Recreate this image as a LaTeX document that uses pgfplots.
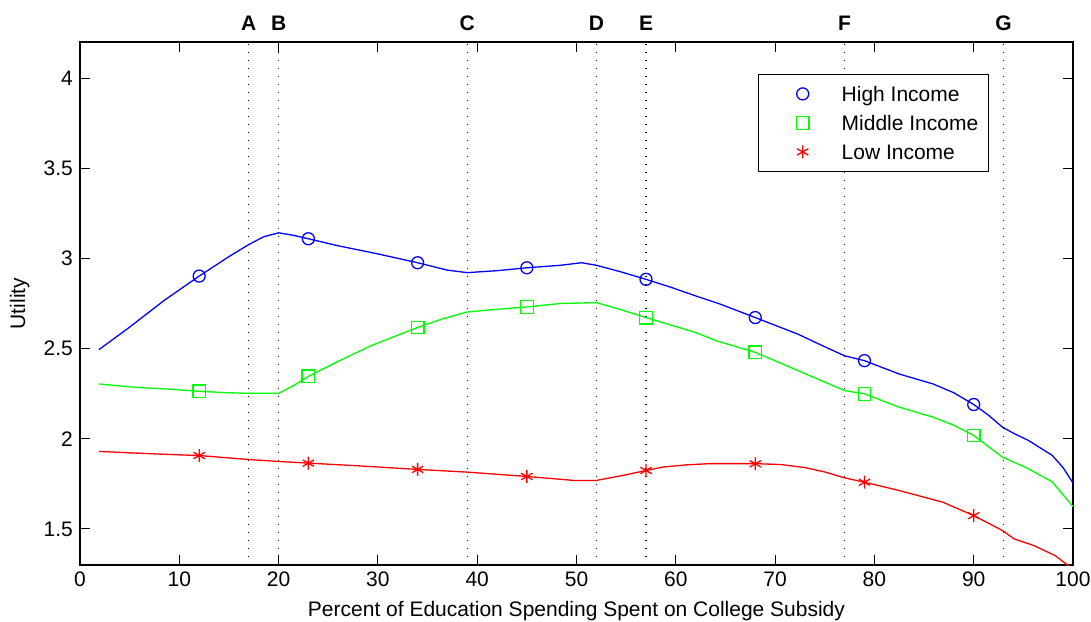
\documentclass[border=0pt]{standalone}
\usepackage{fontspec}
\setmainfont{Liberation Sans}
\usepackage{pgfplots}
\pgfplotsset{compat=1.18}
\definecolor{mblue}{RGB}{0,0,255}
\definecolor{mgreen}{RGB}{0,255,0}
\definecolor{mred}{RGB}{255,0,0}
\begin{document}
\fontsize{21}{25}\selectfont
\begin{tikzpicture}
\begin{axis}[
  scale only axis, width=993pt, height=523pt,
  xmin=0, xmax=100, ymin=1.3, ymax=4.2,
  xtick={0,10,20,30,40,50,60,70,80,90,100},
  ytick={1.5,2,2.5,3,3.5,4},
  major tick length=10pt,
  tick style={black, line width=0.9pt},
  axis line style={black, line width=1.1pt},
  tick label style={font=\fontsize{21}{25}\selectfont},
  /pgf/number format/assume math mode=true,
  xlabel={Percent of Education Spending Spent on College Subsidy},
  ylabel={Utility},
  label style={font=\fontsize{21}{25}\selectfont},
  clip mode=individual,
  legend style={at={(0.683,0.939)}, anchor=north west, draw=black, line width=1pt, fill=white,
    font=\fontsize{21}{25}\selectfont, inner xsep=8pt, inner ysep=5pt, row sep=0pt,
    nodes={text height=17.5pt, text depth=1.5pt, inner ysep=5pt}},
  legend cell align=left,
  legend image code/.code={\path[draw=none, fill=none] (0pt,-6pt) rectangle (73pt,6pt);
    \draw[#1] plot[only marks] coordinates {(36pt,0pt)};},
]
% vertical dotted lines
\addplot[black, line width=1.2pt, dash pattern=on 1.4pt off 6.6pt, forget plot] coordinates {(17,1.3) (17,4.2)};
\addplot[black, line width=1.2pt, dash pattern=on 1.4pt off 6.6pt, forget plot] coordinates {(20,1.3) (20,4.2)};
\addplot[black, line width=1.2pt, dash pattern=on 1.4pt off 6.6pt, forget plot] coordinates {(39,1.3) (39,4.2)};
\addplot[black, line width=1.2pt, dash pattern=on 1.4pt off 6.6pt, forget plot] coordinates {(52,1.3) (52,4.2)};
\addplot[black, line width=1.2pt, dash pattern=on 1.4pt off 6.6pt, forget plot] coordinates {(57,1.3) (57,4.2)};
\addplot[black, line width=1.2pt, dash pattern=on 1.4pt off 6.6pt, forget plot] coordinates {(77,1.3) (77,4.2)};
\addplot[black, line width=1.2pt, dash pattern=on 1.4pt off 6.6pt, forget plot] coordinates {(93,1.3) (93,4.2)};
% lines
\addplot[mblue, line width=1.3pt, forget plot] coordinates {
(1.9,2.494) (4.95,2.617) (8.4,2.764) (12,2.902) (15,3.01) (17,3.077) (18.5,3.12) (20,3.142) (21.5,3.128) (23,3.109) (26,3.07) (30,3.025) (34,2.976) (37,2.935) (39,2.921) (42,2.932) (45,2.948) (48.4,2.962) (50.5,2.976) (52,2.962) (54.5,2.925) (57,2.884) (59.5,2.84) (62,2.792) (64.5,2.746) (68,2.672) (72.3,2.58) (75,2.51) (77,2.46) (79,2.433) (82.5,2.359) (85.9,2.304) (88,2.255) (90,2.19) (91.5,2.13) (92.9,2.064) (94.1,2.028) (95.5,1.991) (97.9,1.908) (99,1.84) (100,1.755)};
\addplot[mgreen, line width=1.3pt, forget plot] coordinates {
(1.9,2.304) (5.6,2.285) (9,2.275) (12,2.263) (15,2.255) (17,2.252) (20,2.252) (21.5,2.295) (23,2.346) (25.8,2.424) (29.3,2.516) (34,2.617) (36.5,2.665) (39,2.703) (42,2.718) (45,2.731) (48.4,2.75) (52,2.755) (54.5,2.715) (57,2.672) (62,2.589) (64.1,2.543) (68,2.479) (72.3,2.378) (77,2.267) (79,2.249) (82.5,2.175) (85.9,2.12) (88,2.075) (90,2.018) (92.9,1.898) (95.5,1.834) (97.9,1.761) (100,1.624)};
\addplot[mred, line width=1.3pt, forget plot] coordinates {
(1.9,1.93) (5,1.922) (8,1.915) (12,1.907) (17,1.885) (20,1.874) (23,1.865) (28,1.85) (34,1.83) (39,1.815) (45,1.791) (49.7,1.769) (52,1.769) (54.5,1.795) (57,1.824) (58.7,1.843) (61,1.855) (63.4,1.862) (68,1.862) (70.6,1.857) (73,1.84) (75,1.816) (77,1.783) (79,1.759) (82.5,1.713) (86.9,1.648) (90,1.574) (92.9,1.491) (94.1,1.444) (96.1,1.407) (98.2,1.352) (99.4,1.302) (100,1.28)};
% markers
\addplot[mblue, only marks, mark=o, mark size=6pt, line width=1.3pt] coordinates {
(12,2.902) (23,3.109) (34,2.976) (45,2.948) (57,2.884) (68,2.672) (79,2.433) (90,2.190)};
\addlegendentry{High Income}
\addplot[mgreen, only marks, mark=square, mark size=6.3pt, line width=1.3pt] coordinates {
(12,2.263) (23,2.346) (34,2.617) (45,2.731) (57,2.672) (68,2.479) (79,2.249) (90,2.018)};
\addlegendentry{Middle Income}
\addplot[mred, only marks, mark=asterisk, mark size=6.5pt, line width=1.3pt] coordinates {
(12,1.907) (23,1.865) (34,1.830) (45,1.791) (57,1.824) (68,1.861) (79,1.759) (90,1.574)};
\addlegendentry{Low Income}
% top letters
\node[anchor=south, font=\fontsize{21}{25}\selectfont\bfseries, yshift=4pt] at (axis cs:17,4.2) {A};
\node[anchor=south, font=\fontsize{21}{25}\selectfont\bfseries, yshift=4pt] at (axis cs:20,4.2) {B};
\node[anchor=south, font=\fontsize{21}{25}\selectfont\bfseries, yshift=4pt] at (axis cs:39,4.2) {C};
\node[anchor=south, font=\fontsize{21}{25}\selectfont\bfseries, yshift=4pt] at (axis cs:52,4.2) {D};
\node[anchor=south, font=\fontsize{21}{25}\selectfont\bfseries, yshift=4pt] at (axis cs:57,4.2) {E};
\node[anchor=south, font=\fontsize{21}{25}\selectfont\bfseries, yshift=4pt] at (axis cs:77,4.2) {F};
\node[anchor=south, font=\fontsize{21}{25}\selectfont\bfseries, yshift=4pt] at (axis cs:93,4.2) {G};
\end{axis}
\pgfresetboundingbox
\path (current axis.south west) ++(-80pt,-56pt) coordinate (bl);
\path (current axis.north east) ++(18pt,42pt) coordinate (tr);
\path (bl) rectangle (tr);
\end{tikzpicture}
\end{document}
